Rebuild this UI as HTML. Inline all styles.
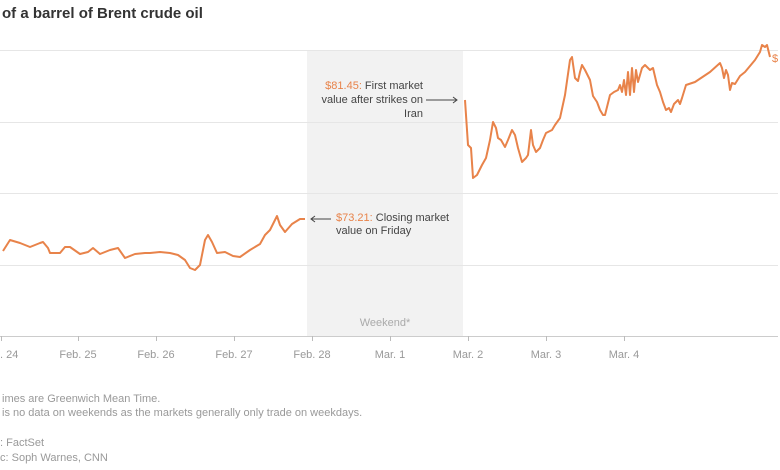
<!DOCTYPE html>
<html><head><meta charset="utf-8"><style>
html,body{margin:0;padding:0;background:#fff;width:780px;height:470px;overflow:hidden;font-family:"Liberation Sans",Arial,sans-serif}
</style></head><body>
<svg width="780" height="470" xmlns="http://www.w3.org/2000/svg" style="position:absolute;left:0;top:0">
<text x="2" y="18" font-size="15" font-weight="bold" fill="#333">of a barrel of Brent crude oil</text>
<rect x="307" y="50" width="156" height="286" fill="#f2f2f2"/>
<g stroke="#e6e6e6" stroke-width="1">
<line x1="0" y1="50.5" x2="778" y2="50.5"/>
<line x1="0" y1="122.5" x2="778" y2="122.5"/>
<line x1="0" y1="193.5" x2="778" y2="193.5"/>
<line x1="0" y1="265.5" x2="778" y2="265.5"/>
</g>
<line x1="0" y1="336.5" x2="778" y2="336.5" stroke="#ccc"/>
<g stroke="#bbb">
<line x1="1.5" y1="336" x2="1.5" y2="341"/><line x1="78.5" y1="336" x2="78.5" y2="341"/>
<line x1="156.5" y1="336" x2="156.5" y2="341"/><line x1="234.5" y1="336" x2="234.5" y2="341"/>
<line x1="312.5" y1="336" x2="312.5" y2="341"/><line x1="390.5" y1="336" x2="390.5" y2="341"/>
<line x1="468.5" y1="336" x2="468.5" y2="341"/><line x1="546.5" y1="336" x2="546.5" y2="341"/>
<line x1="624.5" y1="336" x2="624.5" y2="341"/>
</g>
<g font-size="11" fill="#999" text-anchor="middle">
<text x="0" y="358" text-anchor="start">. 24</text><text x="78" y="358">Feb. 25</text><text x="156" y="358">Feb. 26</text>
<text x="234" y="358">Feb. 27</text><text x="312" y="358">Feb. 28</text><text x="390" y="358">Mar. 1</text>
<text x="468" y="358">Mar. 2</text><text x="546" y="358">Mar. 3</text><text x="624" y="358">Mar. 4</text>
<text x="385" y="326" fill="#aaa">Weekend*</text>
</g>
<polyline fill="none" stroke="#e8834a" stroke-width="2" stroke-linejoin="round" points="3,251 10,240 20,243 30,247 40,243 43,242 48,248 50,253 60,253 65,247 70,247 80,254 88,252 93,248 100,254 110,250 118,248 125,258 135,254 145,253 150,253 160,252 170,253 178,255 185,260 190,268 195,270 200,265 205,240 208,235 212,242 217,253 225,252 233,256 240,257 250,250 260,244 265,235 270,230 277,216 280,225 285,232 292,224 300,219 305,219"/>
<polyline fill="none" stroke="#e8834a" stroke-width="2" stroke-linejoin="round" points="465,100 468,145 471,148 473,178 477,175 482,165 486,158 490,140 493,122 496,128 498,138 501,140 505,147 508,140 512,130 515,135 518,148 522,162 526,158 528,155 531,130 533,145 536,152 540,148 543,140 546,133 552,130 555,125 560,118 565,95 570,60 572,57 575,78 578,81 580,72 582,65 585,70 590,80 593,96 597,102 600,110 603,115 605,115 610,95 614,92 618,90 620,85 622,92 624,80 626,95 628,72 630,95 632,68 634,92 636,70 638,82 642,68 645,65 650,70 653,68 657,85 660,92 663,102 666,110 669,108 671,112 674,104 678,100 680,104 682,98 686,85 695,82 710,72 720,63 722,68 724,78 726,70 728,75 730,90 732,83 735,84 740,76 745,72 750,66 755,60 760,52 762,45 765,47 767,45 770,57"/>
<text x="772" y="62" font-size="11" fill="#e8834a">$</text>
<g font-size="11">
<text x="423" y="89" text-anchor="end"><tspan fill="#e8834a">$81.45:</tspan><tspan fill="#444"> First market</tspan></text>
<text x="423" y="103" text-anchor="end" fill="#444">value after strikes on</text>
<text x="423" y="117" text-anchor="end" fill="#444">Iran</text>
<text x="336" y="221"><tspan fill="#e8834a">$73.21:</tspan><tspan fill="#444"> Closing market</tspan></text>
<text x="336" y="234" fill="#444">value on Friday</text>
</g>
<g stroke="#444" fill="none" stroke-width="1">
<line x1="426" y1="100" x2="457" y2="100"/><polyline points="453,97 457,100 453,103"/>
<line x1="311" y1="219" x2="331" y2="219"/><polyline points="315,216 311,219 315,222"/>
</g>
<g font-size="11" fill="#999">
<text x="2" y="402">imes are Greenwich Mean Time.</text>
<text x="2" y="416">is no data on weekends as the markets generally only trade on weekdays.</text>
<text x="0" y="446">: FactSet</text>
<text x="0" y="461">c: Soph Warnes, CNN</text>
</g>
</svg>
</body></html>
